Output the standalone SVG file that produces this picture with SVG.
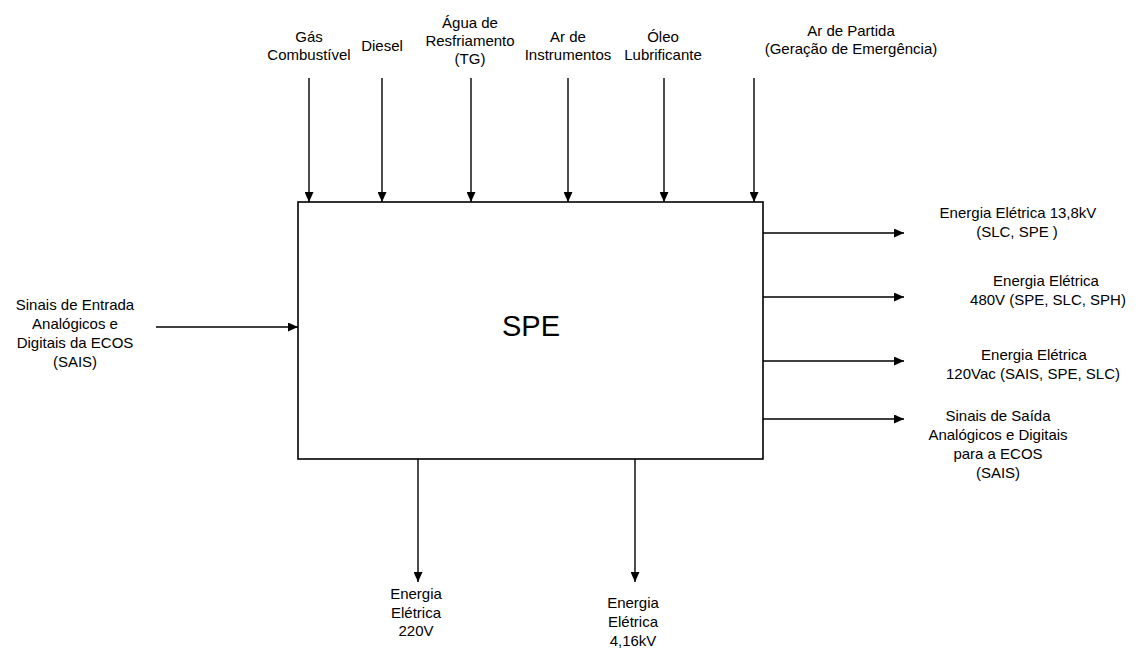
<svg xmlns="http://www.w3.org/2000/svg" width="1148" height="650" viewBox="0 0 1148 650">
<style>
text{font-family:"Liberation Sans",Arial,sans-serif;font-size:15px;fill:#000;text-anchor:middle}
.ln{stroke:#000;stroke-width:1.4;fill:none}
.big{font-size:29px}
</style>
<defs>
<marker id="ah" markerUnits="userSpaceOnUse" markerWidth="11" markerHeight="9" refX="10" refY="4.5" orient="auto"><path d="M0,0 L10,4.5 L0,9 z" fill="#000"/></marker>
</defs>
<rect width="1148" height="650" fill="#fff"/>
<g id="spe">
<rect x="298" y="202" width="465" height="257" fill="#fff" stroke="#000" stroke-width="1.6"/>
<text class="big" x="531" y="336">SPE</text>
</g>
<g id="connectors">
<line class="ln" x1="309" y1="78" x2="309" y2="202" marker-end="url(#ah)"/>
<line class="ln" x1="382" y1="78" x2="382" y2="202" marker-end="url(#ah)"/>
<line class="ln" x1="471" y1="78" x2="471" y2="202" marker-end="url(#ah)"/>
<line class="ln" x1="568" y1="78" x2="568" y2="202" marker-end="url(#ah)"/>
<line class="ln" x1="664" y1="78" x2="664" y2="202" marker-end="url(#ah)"/>
<line class="ln" x1="754" y1="78" x2="754" y2="202" marker-end="url(#ah)"/>
<line class="ln" x1="156" y1="327" x2="298" y2="327" marker-end="url(#ah)"/>
<line class="ln" x1="763" y1="233" x2="904" y2="233" marker-end="url(#ah)"/>
<line class="ln" x1="763" y1="297" x2="904" y2="297" marker-end="url(#ah)"/>
<line class="ln" x1="763" y1="361" x2="904" y2="361" marker-end="url(#ah)"/>
<line class="ln" x1="763" y1="419" x2="904" y2="419" marker-end="url(#ah)"/>
<line class="ln" x1="418" y1="459" x2="418" y2="582" marker-end="url(#ah)"/>
<line class="ln" x1="635" y1="459" x2="635" y2="582" marker-end="url(#ah)"/>
</g>
<g id="in-gas"><text x="309" y="42">Gás</text><text x="309" y="60">Combustível</text></g>
<g id="in-diesel"><text x="382" y="51">Diesel</text></g>
<g id="in-agua"><text x="470" y="28">Água de</text><text x="470" y="46">Resfriamento</text><text x="470" y="64">(TG)</text></g>
<g id="in-ar"><text x="568" y="42">Ar de</text><text x="568" y="60">Instrumentos</text></g>
<g id="in-oleo"><text x="663" y="42">Óleo</text><text x="663" y="60">Lubrificante</text></g>
<g id="in-partida"><text x="851" y="36">Ar de Partida</text><text x="851" y="54">(Geração de Emergência)</text></g>
<g id="in-sinais"><text x="75" y="310">Sinais de Entrada</text><text x="75" y="329">Analógicos e</text><text x="75" y="348">Digitais da ECOS</text><text x="75" y="367">(SAIS)</text></g>
<g id="out-138"><text x="1018" y="218">Energia Elétrica 13,8kV</text><text x="1017" y="237">(SLC, SPE )</text></g>
<g id="out-480"><text x="1046" y="286">Energia Elétrica</text><text x="1048" y="305">480V (SPE, SLC, SPH)</text></g>
<g id="out-120"><text x="1034" y="360">Energia Elétrica</text><text x="1033" y="379">120Vac (SAIS, SPE, SLC)</text></g>
<g id="out-sinais"><text x="998" y="421">Sinais de Saída</text><text x="998" y="440">Analógicos e Digitais</text><text x="998" y="459">para a ECOS</text><text x="998" y="478">(SAIS)</text></g>
<g id="out-220"><text x="416" y="599">Energia</text><text x="416" y="618">Elétrica</text><text x="416" y="636">220V</text></g>
<g id="out-416"><text x="633" y="608">Energia</text><text x="633" y="627">Elétrica</text><text x="633" y="646">4,16kV</text></g>
</svg>
